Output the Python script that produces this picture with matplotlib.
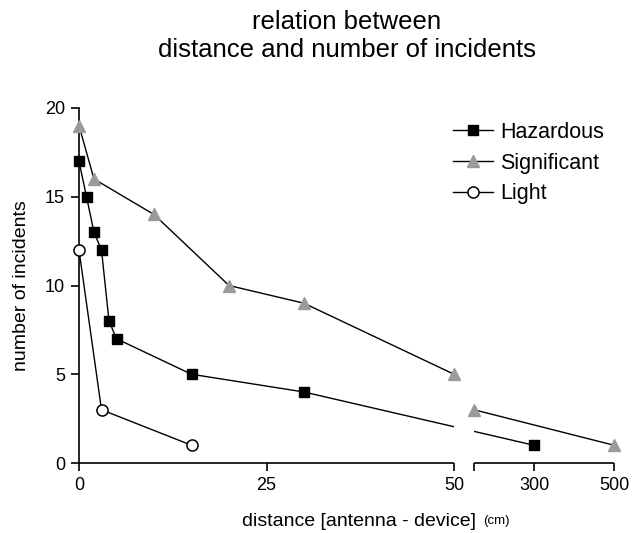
import matplotlib
matplotlib.use("Agg")
import matplotlib.pyplot as plt
from matplotlib.patches import Rectangle

plt.rcParams['font.family'] = ['Liberation Sans', 'DejaVu Sans']

# data
haz_x = [0, 1, 2, 3, 4, 5, 15, 30, 300]
haz_y = [17, 15, 13, 12, 8, 7, 5, 4, 1]
sig_x = [0, 2, 10, 20, 30, 50, 150, 500]
sig_y = [19, 16, 14, 10, 9, 5, 3, 1]
lig_x = [0, 3, 15]
lig_y = [12, 3, 1]

xticks = [0, 25, 50, 150, 300, 500]
xticklabels = ['0', '25', '50', '', '300', '500']
yticks = [0, 5, 10, 15, 20]

# broken x axis: 0-50 linear, gap, then 150-500 compressed
BREAK_LO, BREAK_HI = 50, 150
GAP = 20 / 7.5
SCALE = 0.4 / 7.5


def u(x):
    if x <= BREAK_LO:
        return x
    return BREAK_LO + GAP + (x - BREAK_HI) * SCALE


fig = plt.figure(figsize=(6.32, 5.33), dpi=100)
ax = fig.add_axes([79 / 632, 1 - 463 / 533, 535 / 632, 355 / 533])
ax.set_xlim(0, u(500))
ax.set_ylim(0, 20)

clips = [Rectangle((-10, -5), BREAK_LO + 10, 30, transform=ax.transData),
         Rectangle((u(BREAK_HI), -5), u(500) - u(BREAK_HI) + 10, 30, transform=ax.transData)]

series = [
    (haz_x, haz_y, dict(marker='s', ms=7.5, mfc='black', mec='black'), 'Hazardous'),
    (sig_x, sig_y, dict(marker='^', ms=8, mfc='#9a9a9a', mec='#9a9a9a'), 'Significant'),
    (lig_x, lig_y, dict(marker='o', ms=8, mfc='white', mec='black', mew=1.1), 'Light'),
]

handles = []
for xs, ys, mk, label in series:
    ux = [u(x) for x in xs]
    for clip in clips:
        ln, = ax.plot(ux, ys, color='black', lw=1.0, clip_on=True)
        ln.set_clip_path(clip)
    ax.plot(ux, ys, ls='none', clip_on=False, zorder=3, **mk)
    h, = ax.plot([], [], color='black', lw=1.0, label=label, **mk)
    handles.append(h)

for s in ['top', 'right', 'bottom']:
    ax.spines[s].set_visible(False)
ax.spines['left'].set_linewidth(1.2)
ax.plot([0, BREAK_LO], [0, 0], color='black', lw=1.2, clip_on=False, solid_capstyle='butt')
ax.plot([u(BREAK_HI), u(500)], [0, 0], color='black', lw=1.2, clip_on=False, solid_capstyle='butt')

ax.set_xticks([u(x) for x in xticks])
ax.set_xticklabels(xticklabels)
ax.set_yticks(yticks)
ax.tick_params(direction='out', length=6, width=1.2, labelsize=13, pad=4)

ax.set_ylabel('number of incidents', fontsize=14, labelpad=11)
fig.text(476 / 632, 1 - 521 / 533, 'distance [antenna - device]', fontsize=14, ha='right',
         va='center')
fig.text(483 / 632, 1 - 521 / 533, '(cm)', fontsize=9.5, ha='left', va='center')

fig.text(347 / 632, 1 - 22 / 533, 'relation between', fontsize=18.5, ha='center', va='center')
fig.text(347 / 632, 1 - 50 / 533, 'distance and number of incidents', fontsize=18.5,
         ha='center', va='center')

ax.legend(handles=handles, loc='upper left', bbox_to_anchor=(453 / 632, 1 - 122 / 533),
          bbox_transform=fig.transFigure, frameon=False, fontsize=15.5, borderpad=0,
          borderaxespad=0, handlelength=1.85, handletextpad=0.35, labelspacing=0.45)

fig.savefig('out.png', dpi=100)
